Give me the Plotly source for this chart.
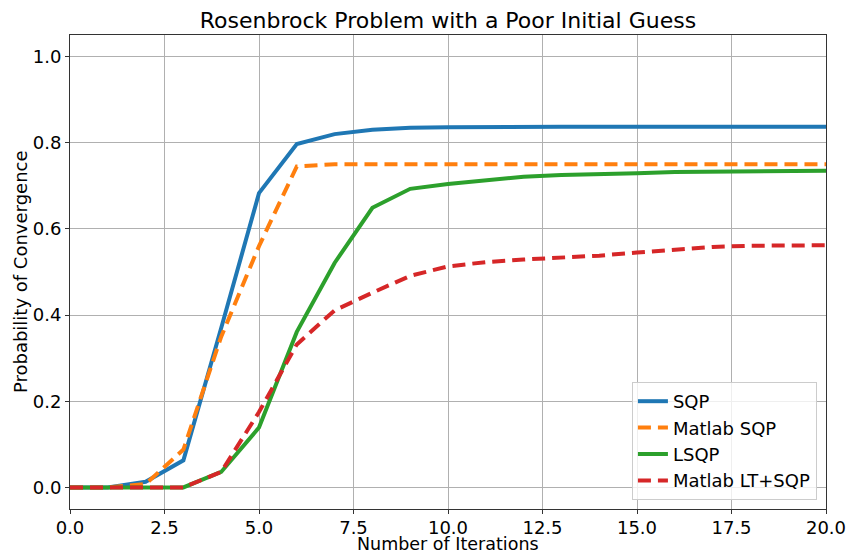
import plotly.graph_objects as go

iterations = list(range(0, 21))
sqp = [0, 0, 0.013, 0.063, 0.37, 0.683, 0.797, 0.820, 0.830, 0.835, 0.836, 0.837, 0.837, 0.837, 0.837, 0.837, 0.837, 0.837, 0.837, 0.837, 0.837]
matlab_sqp = [0, 0, 0.008, 0.088, 0.35, 0.56, 0.745, 0.750, 0.750, 0.750, 0.750, 0.750, 0.750, 0.750, 0.750, 0.750, 0.750, 0.750, 0.750, 0.750, 0.750]
lsqp = [0, 0, 0, 0, 0.036, 0.139, 0.361, 0.521, 0.649, 0.693, 0.704, 0.713, 0.721, 0.725, 0.726, 0.729, 0.732, 0.733, 0.733, 0.733, 0.735]
matlab_lt_sqp = [0, 0, 0, 0, 0.036, 0.175, 0.332, 0.411, 0.452, 0.491, 0.513, 0.523, 0.529, 0.533, 0.538, 0.545, 0.551, 0.558, 0.561, 0.562, 0.562]

names = ["SQP", "Matlab SQP", "LSQP", "Matlab LT+SQP"]
colors = ["#1f77b4", "#ff7f0e", "#2ca02c", "#d62728"]
dashes = ["solid", "13px,7px", "solid", "13px,7px"]
series = [sqp, matlab_sqp, lsqp, matlab_lt_sqp]

fig = go.Figure()
for n, c, d, s in zip(names, colors, dashes, series):
    fig.add_trace(go.Scatter(x=iterations, y=s, mode="lines", name=n,
                             line=dict(color=c, width=4, dash=d)))

axis_common = dict(showline=True, linecolor="#333333", linewidth=1, mirror=True,
                   showgrid=True, gridcolor="#b0b0b0", gridwidth=1,
                   ticks="outside", ticklen=4, tickcolor="#333333",
                   tickfont=dict(size=18, color="black"), zeroline=False,
                   automargin=False)

fig.update_layout(
    width=850, height=556,
    margin=dict(l=70, r=24, t=35, b=47),
    plot_bgcolor="white", paper_bgcolor="white",
    font=dict(family="DejaVu Sans", color="black"),
    title=dict(text="Rosenbrock Problem with a Poor Initial Guess", x=0.527, xanchor="center",
               y=0.963, yanchor="middle", font=dict(size=22)),
    xaxis=dict(range=[0, 20], tickvals=[0, 2.5, 5, 7.5, 10, 12.5, 15, 17.5, 20],
               ticktext=["0.0", "2.5", "5.0", "7.5", "10.0", "12.5", "15.0", "17.5", "20.0"],
               ticklabelstandoff=-2, **axis_common),
    yaxis=dict(range=[-0.05, 1.05], tickvals=[0, 0.2, 0.4, 0.6, 0.8, 1.0],
               ticktext=["0.0", "0.2", "0.4", "0.6", "0.8", "1.0"],
               **axis_common),
    legend=dict(x=0.988, y=0.019, xanchor="right", yanchor="bottom",
                bgcolor="rgba(255,255,255,0.8)", bordercolor="#cccccc", borderwidth=1,
                font=dict(size=18), tracegroupgap=0),
    annotations=[
        dict(text="Number of Iterations", xref="paper", yref="paper", x=0.5, y=-0.097,
             xanchor="center", yanchor="bottom", showarrow=False, borderpad=0,
             font=dict(size=17.5)),
        dict(text="Probability of Convergence", xref="paper", yref="paper", x=-0.066, y=0.5,
             xanchor="center", yanchor="middle", textangle=-90, showarrow=False,
             font=dict(size=18)),
    ],
)

fig.write_html("out.html")
